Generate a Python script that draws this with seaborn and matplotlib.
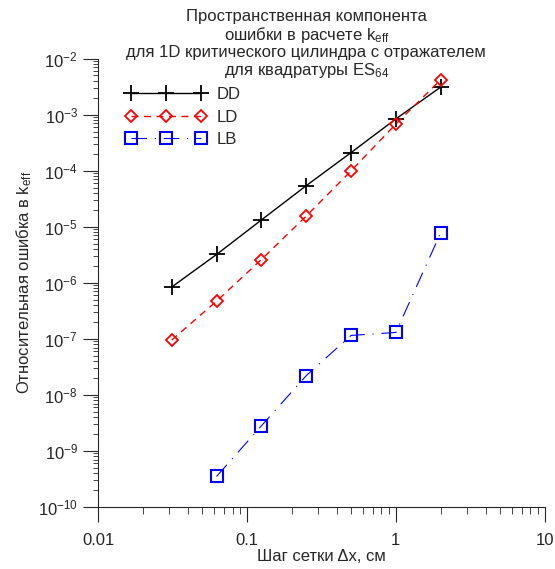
import seaborn as sns
import pandas as pd
import matplotlib.pyplot as plt
import matplotlib.ticker as mticker

# step sizes (cm) and relative keff error
dx = [1/32, 1/16, 1/8, 1/4, 1/2, 1, 2]
dd_err = [8.4e-7, 3.2e-6, 1.32e-5, 5.4e-5, 2.1e-4, 8.4e-4, 3.1e-3]
ld_err = [9.5e-8, 4.7e-7, 2.6e-6, 1.55e-5, 9.9e-5, 6.8e-4, 4.2e-3]
dx_lb = [1/16, 1/8, 1/4, 1/2, 1, 2]
lb_err = [3.5e-10, 2.8e-9, 2.2e-8, 1.15e-7, 1.3e-7, 7.8e-6]
x_ticks = [0.01, 0.1, 1, 10]
y_ticks = [1e-10, 1e-9, 1e-8, 1e-7, 1e-6, 1e-5, 1e-4, 1e-3, 1e-2]

dd = pd.DataFrame({'dx': dx, 'err': dd_err})
ld = pd.DataFrame({'dx': dx, 'err': ld_err})
lb = pd.DataFrame({'dx': dx_lb, 'err': lb_err})

sns.set_style('ticks')
plt.rcParams['font.family'] = ['Liberation Sans', 'DejaVu Sans']
plt.rcParams['mathtext.fontset'] = 'custom'
plt.rcParams['mathtext.rm'] = 'Liberation Sans'
plt.rcParams['mathtext.it'] = 'Liberation Sans'
plt.rcParams['font.size'] = 12

fig = plt.figure(figsize=(5.55, 5.69), dpi=100)
ax = fig.add_axes([0.1766, 0.109, 0.805, 0.788])

sns.lineplot(data=dd, x='dx', y='err', ax=ax, color='black', lw=1,
             marker='+', markersize=11, markeredgewidth=1.3,
             markeredgecolor='black', label='DD')
sns.lineplot(data=ld, x='dx', y='err', ax=ax, color='red', lw=1,
             marker='D', markersize=6, markerfacecolor='none',
             markeredgecolor='red', markeredgewidth=1.3, label='LD')
sns.lineplot(data=lb, x='dx', y='err', ax=ax, color='blue', lw=0.8,
             marker='s', markersize=8.5, markerfacecolor='none',
             markeredgecolor='blue', markeredgewidth=1.5, label='LB')
ax.get_lines()[1].set_dashes((5, 4))
ax.get_lines()[2].set_dashes((14, 7, 1, 7))

ax.set_xscale('log')
ax.set_yscale('log')
ax.set_xticks(x_ticks)
ax.set_yticks(y_ticks)
ax.set_xlim(0.01, 10)
ax.set_ylim(1e-10, 1e-2)
ax.xaxis.set_major_formatter(mticker.FuncFormatter(lambda v, p: f'{v:g}'))
ax.xaxis.set_minor_formatter(mticker.NullFormatter())
ax.yaxis.set_major_formatter(mticker.LogFormatterSciNotation())
ax.yaxis.set_minor_locator(mticker.LogLocator(base=10, subs=range(2, 10), numticks=20))
ax.yaxis.set_minor_formatter(mticker.NullFormatter())
ax.tick_params(which='major', length=10.5, width=0.8, labelsize=12)
ax.tick_params(axis='y', which='major', pad=4)
ax.tick_params(axis='x', which='major', pad=8)
ax.tick_params(axis='y', which='minor', length=3.5, width=0.6)
ax.tick_params(axis='x', which='minor', length=5, width=0.6)
sns.despine(ax=ax)

ax.set_xlabel('Шаг сетки Δx, см', fontsize=12, labelpad=1)
ax.set_ylabel('Относительная ошибка в k$_{eff}$', fontsize=12, labelpad=3)

fig.text(0.552, 0.984,
         'Пространственная компонента\nошибки в расчете k$_{eff}$\n'
         'для 1D критического цилиндра с отражателем\nдля квадратуры ES$_{64}$',
         ha='center', va='top', fontsize=12, linespacing=1.05)

ax.legend(loc='upper left', bbox_to_anchor=(0.03, 0.97), frameon=False,
          numpoints=3, handlelength=4.8, fontsize=12, labelspacing=0.45,
          handletextpad=0.6)

fig.savefig('out.png', dpi=100)
